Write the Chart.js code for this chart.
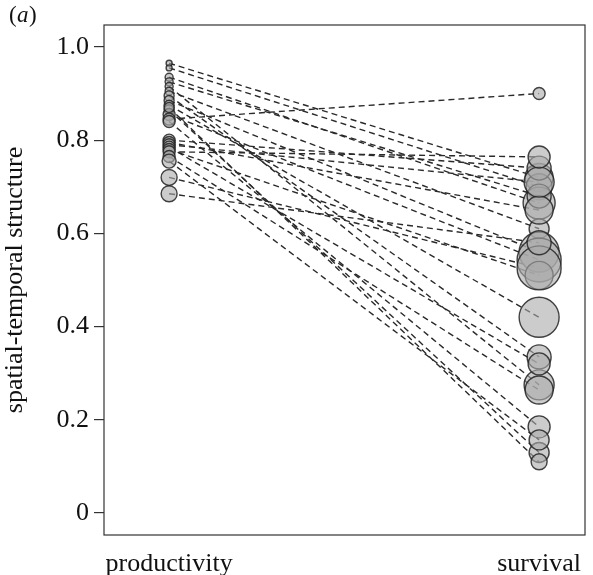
<!DOCTYPE html>
<html>
<head>
<meta charset="utf-8">
<script src="https://cdn.jsdelivr.net/npm/chart.js@4"></script>
<style>
  html, body { margin: 0; padding: 0; background: #fff; overflow: hidden; }
  canvas { display: block; }
</style>
</head>
<body>
<canvas id="chart" width="593" height="575"></canvas>
<script>
const categories = ["productivity", "survival"];
const yTicks = [0, 0.2, 0.4, 0.6, 0.8, 1.0];

// one entry per population: value under productivity, value under survival
const prodValues = [0.965, 0.955, 0.935, 0.925, 0.915, 0.905, 0.895, 0.885, 0.875, 0.865, 0.855, 0.845,
  0.84, 0.80, 0.795, 0.79, 0.785, 0.78, 0.775, 0.765, 0.755, 0.72, 0.685, 0.87];
const survValues = [0.72, 0.70, 0.665, 0.68, 0.275, 0.61, 0.335, 0.56, 0.42, 0.13, 0.543, 0.90,
  0.185, 0.74, 0.65, 0.71, 0.32, 0.51, 0.764, 0.264, 0.157, 0.526, 0.58, 0.11];
// circle sizes
const prodSizes = [3, 3, 4, 4, 4, 4, 5, 5, 5, 5, 6, 6, 6, 6, 6, 6, 6, 6, 6, 6, 7, 8, 8, 5];
const survSizes = [14, 13, 16, 12, 15, 10, 12, 20, 20, 10, 22, 6, 11, 12, 14, 15, 11, 14, 11, 14, 10, 22, 12, 8];

const FONT = "'Liberation Serif', 'Times New Roman', serif";

const pointStyle = {
  showLine: false,
  backgroundColor: "rgba(170,170,170,0.6)",
  borderColor: "rgba(35,35,35,0.85)",
  borderWidth: 1.4
};

const datasets = [
  Object.assign({ data: survValues.map(v => ({ x: 1, y: v })), pointRadius: survSizes }, pointStyle),
  Object.assign({ data: prodValues.map(v => ({ x: 0, y: v })), pointRadius: prodSizes }, pointStyle)
];

prodValues.forEach((p, i) => {
  datasets.push({
    data: [{ x: 0, y: p }, { x: 1, y: survValues[i] }],
    showLine: true,
    pointRadius: 0,
    borderColor: "#2a2a2a",
    borderWidth: 1.4,
    borderDash: [6, 4]
  });
});

const frame = {
  id: "frame",
  afterDraw(c) {
    const a = c.chartArea;
    const ctx = c.ctx;
    ctx.save();
    ctx.strokeStyle = "#333";
    ctx.lineWidth = 1.2;
    ctx.strokeRect(a.left, a.top, a.right - a.left, a.bottom - a.top);
    ctx.fillStyle = "#111";
    ctx.textBaseline = "alphabetic";
    ctx.font = "23px " + FONT;
    ctx.fillText("(", 9, 22);
    ctx.font = "italic 23px " + FONT;
    ctx.fillText("a", 17, 22);
    ctx.font = "23px " + FONT;
    ctx.fillText(")", 29, 22);
    ctx.restore();
  }
};

new Chart(document.getElementById("chart"), {
  type: "scatter",
  data: { datasets },
  options: {
    responsive: false,
    animation: false,
    layout: { autoPadding: false, padding: { top: 25, right: 8, left: 0, bottom: 0 } },
    plugins: { legend: { display: false }, tooltip: { enabled: false } },
    scales: {
      x: {
        type: "linear",
        min: -0.176,
        max: 1.124,
        afterBuildTicks: s => { s.ticks = [{ value: 0 }, { value: 1 }]; },
        afterFit: s => { s.height = 40; s.paddingLeft = 0; s.paddingRight = 0; },
        grid: { display: false },
        border: { display: false },
        ticks: {
          callback: v => categories[v],
          color: "#111",
          font: { family: FONT, size: 26 },
          padding: 6,
          maxRotation: 0
        }
      },
      y: {
        min: -0.047,
        max: 1.047,
        afterBuildTicks: s => { s.ticks = yTicks.map(v => ({ value: v })); },
        afterFit: s => { s.width = 104; s.paddingTop = 0; s.paddingBottom = 0; },
        grid: { drawOnChartArea: false, tickLength: 10, color: "#333", lineWidth: 1.2 },
        border: { display: false },
        ticks: {
          callback: v => v === 0 ? "0" : v.toFixed(1),
          color: "#111",
          font: { family: FONT, size: 26 },
          padding: 5
        },
        title: {
          display: true,
          text: "spatial-temporal structure",
          color: "#111",
          font: { family: FONT, size: 26 },
          padding: 0
        }
      }
    }
  },
  plugins: [frame]
});
</script>
</body>
</html>
